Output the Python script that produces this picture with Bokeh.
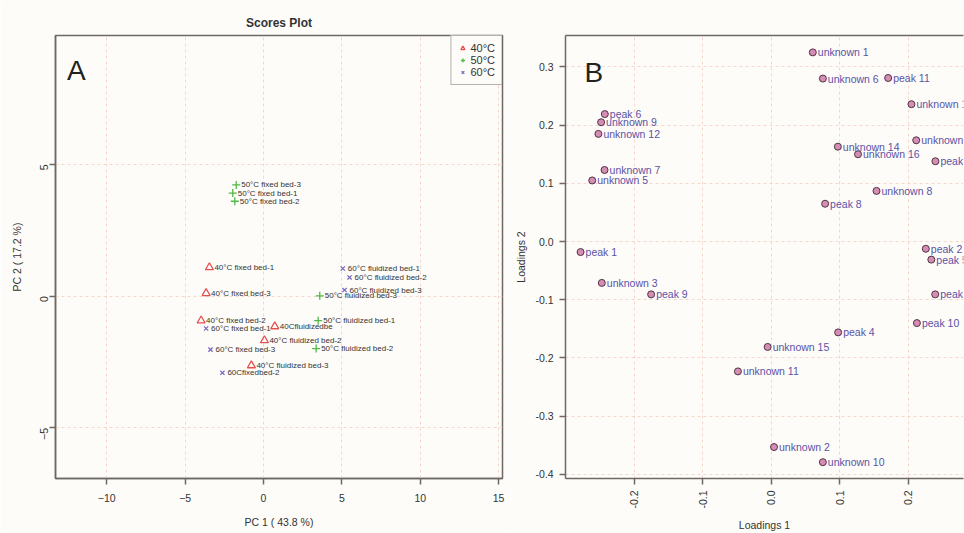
import math
from bokeh.plotting import figure
from bokeh.layouts import row
from bokeh.models import (ColumnDataSource, Legend, LegendItem, FixedTicker, LinearAxis,
                          Label, Range1d, PrintfTickFormatter)
from bokeh.embed import file_html
from bokeh.resources import INLINE
from bokeh.core.properties import value

# ---------------- data: scores (panel A) ----------------
groups = ["40°C", "50°C", "60°C"]

s40_labels = ["40°C fixed bed-1", "40°C fixed bed-3", "40°C fixed bed-2",
              "40Cfluidizedbe", "40°C fluidized bed-2", "40°C fluidized bed-3"]
s40_pc1 = [-3.45, -3.66, -3.98, 0.72, 0.06, -0.77]
s40_pc2 = [1.09, 0.11, -0.93, -1.15, -1.68, -2.63]

s50_labels = ["50°C fixed bed-3", "50°C fixed bed-1", "50°C fixed bed-2",
              "50°C fluidized bed-3", "50°C fluidized bed-1", "50°C fluidized bed-2"]
s50_pc1 = [-1.74, -1.96, -1.83, 3.59, 3.49, 3.36]
s50_pc2 = [4.22, 3.91, 3.60, 0.01, -0.93, -1.99]

s60_labels = ["60°C fluidized bed-1", "60°C fluidized bed-2", "60°C fluidized bed-3",
              "60°C fixed bed-1", "60°C fixed bed-3", "60Cfixedbed-2"]
s60_pc1 = [5.06, 5.49, 5.17, -3.66, -3.38, -2.62]
s60_pc2 = [1.05, 0.71, 0.23, -1.23, -2.03, -2.91]

a_xticks = [-10, -5, 0, 5, 10, 15]
a_yticks = [-5, 0, 5]

# ---------------- data: loadings (panel B) ----------------
load_labels = ["unknown 1", "unknown 6", "peak 11", "unknown 13", "unknown 4", "unknown 14",
               "unknown 16", "peak 3", "peak 6", "unknown 9", "unknown 12", "unknown 7",
               "unknown 5", "unknown 8", "peak 8", "peak 1", "peak 2", "peak 5", "unknown 3",
               "peak 9", "peak 7", "peak 10", "peak 4", "unknown 15", "unknown 11",
               "unknown 2", "unknown 10"]
load1 = [0.061, 0.0757, 0.171, 0.205, 0.212, 0.0976, 0.127, 0.240, -0.2426, -0.248, -0.252,
         -0.243, -0.261, 0.154, 0.079, -0.278, 0.226, 0.234, -0.247, -0.175, 0.2397, 0.213,
         0.098, -0.0049, -0.0483, 0.0044, 0.0757]
load2 = [0.325, 0.280, 0.281, 0.236, 0.174, 0.163, 0.150, 0.138, 0.219, 0.205, 0.185, 0.123,
         0.105, 0.087, 0.065, -0.018, -0.0124, -0.031, -0.071, -0.0907, -0.0907, -0.140,
         -0.156, -0.181, -0.223, -0.353, -0.379]

b_xticks = [-0.2, -0.1, 0.0, 0.1, 0.2, 0.3]
b_yticks = [-0.4, -0.3, -0.2, -0.1, 0.0, 0.1, 0.2, 0.3]

# ---------------- styles ----------------
BG = "#fdfcf9"
AXIS = "#6e6864"
GRID = "#f5d6cc"
TXT = "#333333"
FONT = "Liberation Sans"
C40, C50, C60 = "#e5504f", "#52b848", "#7467c0"


def style(p):
    p.background_fill_color = BG
    p.border_fill_color = BG
    for ax in p.axis:
        ax.axis_line_color = AXIS
        ax.axis_line_width = 1.5
        ax.major_tick_line_color = AXIS
        ax.major_tick_line_width = 1.5
        ax.major_tick_out = 6
        ax.major_tick_in = 0
        ax.minor_tick_line_color = None
        ax.major_label_text_font = FONT
        ax.major_label_text_font_size = "10.5px"
        ax.major_label_text_color = TXT
        ax.axis_label_text_font = FONT
        ax.axis_label_text_font_size = "10.5px"
        ax.axis_label_text_font_style = "normal"
        ax.axis_label_text_color = TXT
    for g in p.grid:
        g.grid_line_color = GRID
        g.grid_line_dash = "3 3"
        g.grid_line_width = 1


# ---------------- panel A ----------------
pA = figure(width=510, height=533, output_backend="svg", toolbar_location=None,
            x_range=Range1d(-13.27, 15.25), y_range=Range1d(-6.92, 9.89),
            min_border_left=55, min_border_right=8, min_border_top=35, min_border_bottom=51,
            title="Scores Plot")
pA.title.align = "center"
pA.title.vertical_align = "middle"
pA.title.text_font = FONT
pA.title.text_font_size = "12px"
pA.title.text_font_style = "bold"
pA.title.text_color = TXT
pA.xaxis.axis_label = "PC 1 ( 43.8 %)"
pA.yaxis.axis_label = "PC 2 ( 17.2 %)"
pA.xaxis.ticker = FixedTicker(ticks=a_xticks)
pA.yaxis.ticker = FixedTicker(ticks=a_yticks)
pA.yaxis.major_label_orientation = math.pi / 2
style(pA)
pA.outline_line_color = AXIS
pA.outline_line_width = 1.5
pA.xaxis.major_label_standoff = 9
pA.xaxis.axis_label_standoff = 11
pA.yaxis.major_label_standoff = 5
pA.yaxis.axis_label_standoff = 11

srcs = [
    ColumnDataSource(dict(x=s40_pc1, y=s40_pc2, t=s40_labels)),
    ColumnDataSource(dict(x=s50_pc1, y=s50_pc2, t=s50_labels)),
    ColumnDataSource(dict(x=s60_pc1, y=s60_pc2, t=s60_labels)),
]
r40 = pA.scatter("x", "y", source=srcs[0], marker="triangle", size=8, fill_color=None,
                 line_color=C40, line_width=1.3)
r50 = pA.scatter("x", "y", source=srcs[1], marker="cross", size=8, line_color=C50, line_width=1.3)
r60 = pA.scatter("x", "y", source=srcs[2], marker="x", size=6, line_color=C60, line_width=1.2)
for s in srcs:
    pA.text("x", "y", text="t", source=s, x_offset=5, text_baseline="middle",
            text_font=value(FONT), text_font_size="8px", text_color=TXT)

legend = Legend(items=[LegendItem(label=groups[0], renderers=[r40]),
                       LegendItem(label=groups[1], renderers=[r50]),
                       LegendItem(label=groups[2], renderers=[r60])],
                location="top_right")
legend.margin = 0
legend.padding = 6
legend.spacing = 0
legend.label_height = 12
legend.glyph_height = 12
legend.glyph_width = 10
legend.label_standoff = 3
legend.label_text_font = FONT
legend.label_text_font_size = "11px"
legend.label_text_color = TXT
legend.border_line_color = AXIS
legend.border_line_width = 1.5
legend.background_fill_color = BG
legend.background_fill_alpha = 1
pA.add_layout(legend)

pA.add_layout(Label(x=11.5, y=393, x_units="screen", y_units="screen", text="A",
                    text_font=FONT, text_font_size="28px", text_color="#222222"))

# ---------------- panel B ----------------
pB = figure(width=454, height=533, output_backend="svg", toolbar_location=None,
            x_range=Range1d(-0.30, 0.281), y_range=Range1d(-0.407, 0.354),
            min_border_left=55, min_border_right=1, min_border_top=35, min_border_bottom=51)
pB.xaxis.axis_label = "Loadings 1"
pB.yaxis.axis_label = "Loadings 2"
pB.xaxis.ticker = FixedTicker(ticks=b_xticks)
pB.yaxis.ticker = FixedTicker(ticks=b_yticks)
pB.xaxis.formatter = PrintfTickFormatter(format="%.1f")
pB.yaxis.formatter = PrintfTickFormatter(format="%.1f")
pB.xaxis.major_label_orientation = math.pi / 2
top = LinearAxis(ticker=FixedTicker(ticks=[]), major_label_text_font_size="0px")
pB.add_layout(top, "above")
style(pB)
top.major_tick_line_color = None
pB.outline_line_color = None
pB.xaxis.major_label_standoff = 6
pB.xaxis.axis_label_standoff = 7
pB.yaxis.major_label_standoff = 6
pB.yaxis.axis_label_standoff = 5

srcB = ColumnDataSource(dict(x=load1, y=load2, t=load_labels))
pB.scatter("x", "y", source=srcB, marker="circle", size=7, fill_color="#d68db3",
           line_color="#4f3344", line_width=1)
pB.text("x", "y", text="t", source=srcB, x_offset=5, text_baseline="middle",
        text_font=value(FONT), text_font_size="10.5px", text_color="#5b52a5")

pB.add_layout(Label(x=19, y=391, x_units="screen", y_units="screen", text="B",
                    text_font=FONT, text_font_size="28px", text_color="#222222"))

layout = row(pA, pB)
open("out.html", "w").write(file_html(layout, INLINE))
